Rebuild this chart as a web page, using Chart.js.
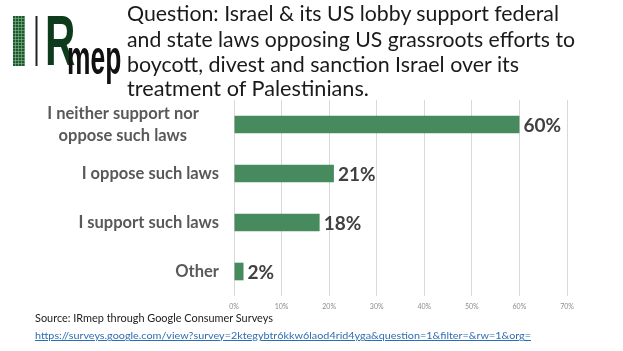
<!DOCTYPE html>
<html><head><meta charset="utf-8">
<script src="https://cdn.jsdelivr.net/npm/chart.js@4"></script>
<style>
html,body{margin:0;padding:0;background:#fff;width:623px;height:351px;overflow:hidden}
#wrap{position:relative;width:623px;height:351px}
canvas{position:absolute;left:0;top:0}
svg{position:absolute;left:0;top:0}
</style></head><body>
<div id="wrap">
<canvas id="c" width="623" height="351"></canvas>
<svg width="623" height="351" xmlns="http://www.w3.org/2000/svg">
  <defs>
    <pattern id="g" width="3" height="3" patternUnits="userSpaceOnUse">
      <rect width="3" height="3" fill="#1d5a2b"/>
      <path d="M0 0.3H3M0.3 0V3" stroke="#8fbf98" stroke-width="0.7"/>
    </pattern>
  </defs>
  <rect x="13" y="16" width="12" height="50" fill="url(#g)"/>
  <rect x="35.5" y="16" width="2" height="50" fill="#222"/>
  <text transform="translate(45,65) scale(0.6,1)" font-family="Liberation Sans" font-weight="bold" font-size="70" fill="#0d3b1b">R</text>
  <text transform="translate(67,74) scale(0.55,1)" font-family="Liberation Sans" font-weight="bold" font-size="48" fill="#111">mep</text>

  <g font-family="Lato" font-size="21.5" fill="#1a1a1a">
    <text x="127" y="21" textLength="432" lengthAdjust="spacingAndGlyphs">Question: Israel &amp; its US lobby support federal</text>
    <text x="127" y="47" textLength="448" lengthAdjust="spacingAndGlyphs">and state laws opposing US grassroots efforts to</text>
    <text x="127" y="72" textLength="392" lengthAdjust="spacingAndGlyphs">boycott, divest and sanction Israel over its</text>
    <text x="127" y="96" textLength="242" lengthAdjust="spacingAndGlyphs">treatment of Palestinians.</text>
  </g>
  <text x="35" y="322" font-family="Lato" font-size="10.5" fill="#222" textLength="238" lengthAdjust="spacingAndGlyphs">Source: IRmep through Google Consumer Surveys</text>
  <text x="35" y="339" font-family="Lato" font-size="10" fill="#2e6db4" text-decoration="underline" textLength="496" lengthAdjust="spacingAndGlyphs">https://surveys.google.com/view?survey=2ktegybtr6kkw6laod4rid4yga&amp;question=1&amp;filter=&amp;rw=1&amp;org=</text>
</svg>
</div>
<script>
const categories = [["I neither support nor     ", "oppose such laws        "], "I oppose such laws", "I support such laws", "Other"];
const values = [60, 21, 18, 2];
const xTickValues = [0, 10, 20, 30, 40, 50, 60, 70];

const valueLabels = {
  id: 'valueLabels',
  afterDatasetsDraw(chart) {
    const ctx = chart.ctx;
    const meta = chart.getDatasetMeta(0);
    ctx.save();
    ctx.font = 'bold 19px Lato';
    ctx.fillStyle = '#404040';
    ctx.textAlign = 'left';
    ctx.textBaseline = 'middle';
    meta.data.forEach((bar, i) => {
      ctx.fillText(values[i] + '%', bar.x + 4, bar.y + 1);
    });
    ctx.restore();
  }
};

new Chart(document.getElementById('c'), {
  type: 'bar',
  data: {
    labels: categories,
    datasets: [{
      data: values,
      backgroundColor: '#478a5e',
      borderWidth: 0,
      categoryPercentage: 1,
      barPercentage: 0.36
    }]
  },
  options: {
    indexAxis: 'y',
    responsive: false,
    animation: false,
    devicePixelRatio: 1,
    layout: { padding: { top: 100, right: 56, bottom: 35, left: 0 } },
    plugins: { legend: { display: false }, tooltip: { enabled: false }, title: { display: false } },
    scales: {
      x: {
        min: 0, max: 70,
        afterBuildTicks(s) { s.ticks = xTickValues.map(v => ({ value: v })); },
        afterFit(s) { s.height = 20; },
        grid: { color: '#d9d9d9', lineWidth: 1, drawTicks: false },
        border: { display: false },
        ticks: { padding: 7, color: '#8c8c8c', font: { family: 'Lato', size: 7 }, callback: v => v + '%' }
      },
      y: {
        afterFit(s) { s.width = 234; },
        grid: { display: false, drawTicks: false },
        border: { display: false },
        ticks: { padding: 15, color: '#595959', font: { family: 'Lato', size: 16.5, weight: 'bold', lineHeight: 1.35 }, autoSkip: false }
      }
    }
  },
  plugins: [valueLabels]
});
</script>
</body></html>
